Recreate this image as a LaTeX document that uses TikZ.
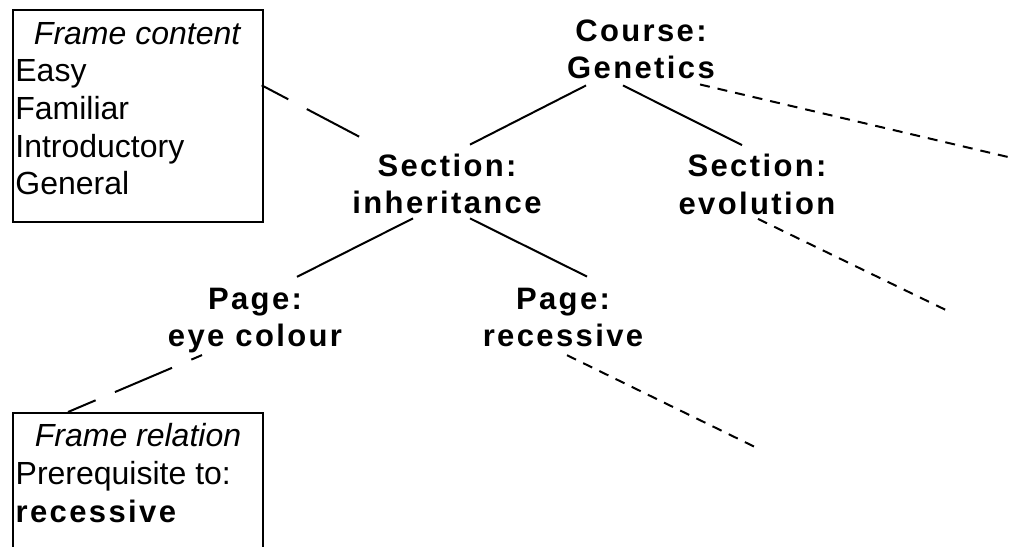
\documentclass[tikz,border=0pt]{standalone}
\usepackage{fontspec}
\setmainfont{Liberation Sans}
\newfontfamily\spacedfont{Liberation Sans}[LetterSpace=7.7]
\usetikzlibrary{calc}

\tikzset{
  lbl/.style={font=\spacedfont\bfseries\fontsize{23.25pt}{28.1pt}\selectfont, align=center, inner sep=0pt},
  framebox/.style={draw, line width=1.5pt, inner xsep=2pt, inner ysep=0pt, anchor=north west, font=\fontsize{24pt}{28.3pt}\selectfont},
  tree/.style={line width=1.5pt},
  sideref/.style={line width=1.5pt, dash pattern=on 7.5pt off 6pt},
  framelink/.style={line width=1.5pt, dash pattern=on 22.5pt off 15.75pt on 46.5pt off 15.75pt}
}

\begin{document}
\begin{tikzpicture}[x=0.75pt, y=-0.75pt]
  \useasboundingbox (0,0) rectangle (1012,546);
  \clip (0,0) rectangle (1012,546);
  \node[lbl] at (641,49.5) (course) {Course:\\Genetics};
  \node[lbl] at (447,184) (inher) {Section:\\inheritance};
  \node[lbl] at (757,184.5) (evol) {Section:\\evolution};
  \node[lbl] at (255,320.7) (eye) {Page:\\eye colour};
  \node[lbl] at (563,317.4) (rec) {Page:\\recessive};
  \node[framebox] at (11.7,9.3) (content) {\parbox[c][158.5pt][t]{183.5pt}{\centering\rule{0pt}{25.3pt}\textit{Frame content}\par
    \raggedright Easy\\Familiar\\Introductory\\General}};
  \node[framebox] at (12,412) (relation) {\parbox[c][150pt][t]{183.5pt}{\centering\rule{0pt}{25.3pt}\textit{Frame relation}\par
    \raggedright Prerequisite to:\\{\spacedfont\bfseries\fontsize{23.25pt}{28.3pt}\selectfont recessive}}};
  \coordinate (courseout) at (1025,161);
  \coordinate (evolout) at (950,312);
  \coordinate (recout) at (757,448);
  % tree
  \draw[tree] ($(course.south)+(-55,6)$) -- ($(inher.north)+(23,-9)$);
  \draw[tree] ($(course.south)+(-18,6)$) -- ($(evol.north)+(-15,-9)$);
  \draw[tree] ($(inher.south)+(-34,4)$) -- ($(eye.north)+(42,-11)$);
  \draw[tree] ($(inher.south)+(23,4)$) -- ($(rec.north)+(24,-11)$);
  \draw[sideref] ($(course.south)+(59,5)$) -- (courseout);
  \draw[sideref] ($(evol.south)+(1,4)$) -- (evolout);
  \draw[sideref] ($(rec.south)+(4,8)$) -- (recout);
  % frames
  \draw[framelink] ($(content.north east)+(-2,76)$) -- ($(inher.north west)+(7,-17)$);
  \draw[framelink] ($(relation.north west)+(56,0)$) -- ($(eye.south)+(-53,1.5)$);
\end{tikzpicture}
\end{document}
